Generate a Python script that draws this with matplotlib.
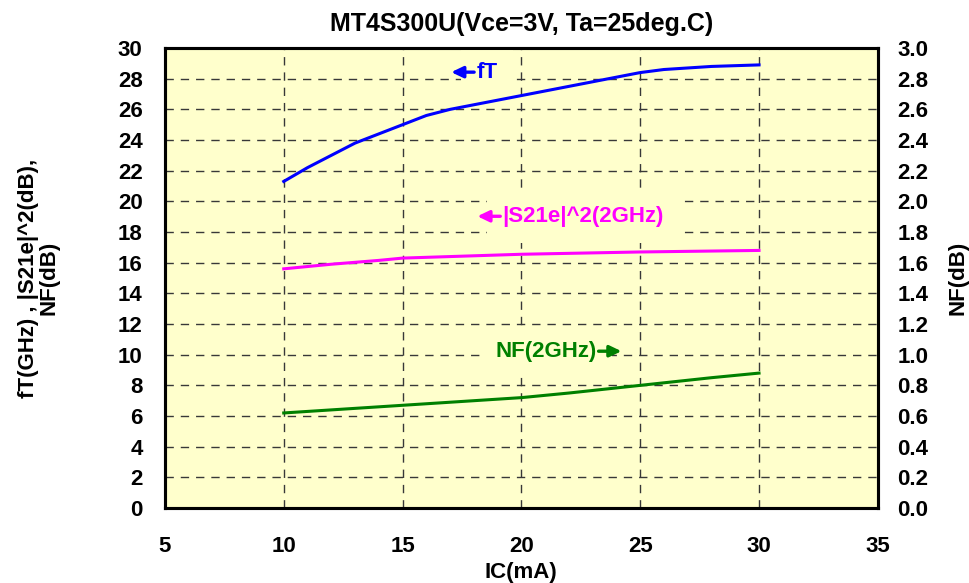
import numpy as np
import matplotlib
matplotlib.use("Agg")
import matplotlib.pyplot as plt
from matplotlib.text import OffsetFrom

plt.rcParams['font.family'] = ['Liberation Sans', 'DejaVu Sans']
plt.rcParams['font.weight'] = 'bold'

# -------- Data --------
ic_ft = [10, 11, 12, 13, 14, 15, 16, 17, 18, 19, 20, 22, 24, 25, 26, 28, 30]
ft = [21.3, 22.2, 23.0, 23.8, 24.4, 25.0, 25.6, 26.0, 26.3, 26.6, 26.9,
      27.5, 28.1, 28.4, 28.6, 28.8, 28.9]

ic_s21 = [10, 12, 14, 15, 20, 25, 30]
s21 = [15.6, 15.9, 16.15, 16.3, 16.55, 16.7, 16.8]

ic_nf = [10, 15, 20, 22, 25, 28, 30]
nf = [0.62, 0.67, 0.72, 0.75, 0.80, 0.85, 0.88]

x_ticks = [5, 10, 15, 20, 25, 30, 35]
y_ticks = list(range(0, 31, 2))
nf_ticks = [round(v * 0.2, 1) for v in range(16)]

bg = '#FFFFCC'
fs = 16

fig = plt.figure(figsize=(9.7, 5.83), dpi=100)
ax = fig.add_axes([0.170, 0.1286, 0.735, 0.789])
ax.set_facecolor(bg)

ax.plot(ic_ft, ft, color='#0000FF', linewidth=2.2, zorder=6)
ax.plot(ic_s21, s21, color='#FF00FF', linewidth=2.2, zorder=6)

ax.set_xlim(5, 35)
ax.set_ylim(0, 30)
ax.set_xticks(x_ticks)
ax.set_yticks(y_ticks)
ax.tick_params(axis='both', length=0, labelsize=fs)
ax.tick_params(axis='x', pad=20)
ax.tick_params(axis='y', pad=16)
ax.grid(True, color='#383838', linestyle=(0, (6, 5)), linewidth=1.0)
ax.set_axisbelow(True)

for s in ax.spines.values():
    s.set_linewidth(2.2)

ax.set_title("MT4S300U(Vce=3V, Ta=25deg.C)", fontsize=18, fontweight='bold', pad=12)
ax.set_xlabel("IC(mA)", fontsize=fs, fontweight='bold', labelpad=4)
ax.set_ylabel("fT(GHz) , |S21e|^2(dB),\nNF(dB)", fontsize=fs, fontweight='bold',
              labelpad=42, linespacing=1.0)

# -------- Right axis for NF --------
ax2 = ax.twinx()
ax2.plot(ic_nf, nf, color='#008000', linewidth=2.2, zorder=6)
ax2.set_ylim(0, 3.0)
ax2.set_yticks(nf_ticks)
ax2.set_yticklabels([f"{v:.1f}" for v in nf_ticks])
ax2.tick_params(axis='y', length=0, labelsize=fs, pad=14)
ax2.set_ylabel("NF(dB)", fontsize=fs, fontweight='bold', labelpad=14)
for s in ax2.spines.values():
    s.set_linewidth(2.2)


# -------- Curve labels (text box hides the grid behind it) --------
def curve_label(x, y, label, color, arrow_left):
    t = ax.text(x, y, label, color=color, fontsize=fs, fontweight='bold',
                va='center', ha='left', zorder=4,
                bbox=dict(facecolor=bg, edgecolor='none', pad=11))
    if arrow_left:
        off = OffsetFrom(t, (0, 0.52))
        tip, tail = (-18, 0), (-1.5, 0)
    else:
        off = OffsetFrom(t, (1, 0.52))
        tip, tail = (18, 0), (1.5, 0)
    ax.annotate("", xy=tip, xycoords=off, xytext=tail, textcoords=off, zorder=5,
                arrowprops=dict(arrowstyle='-|>,head_length=0.5,head_width=0.24',
                                color=color, lw=2.4, mutation_scale=14,
                                shrinkA=0, shrinkB=0))


curve_label(18.1, 28.4, "fT", '#0000FF', True)
curve_label(19.2, 19.0, "|S21e|^2(2GHz)", '#FF00FF', True)
curve_label(18.9, 10.2, "NF(2GHz)", '#008000', False)

fig.savefig("out.png", dpi=100)
